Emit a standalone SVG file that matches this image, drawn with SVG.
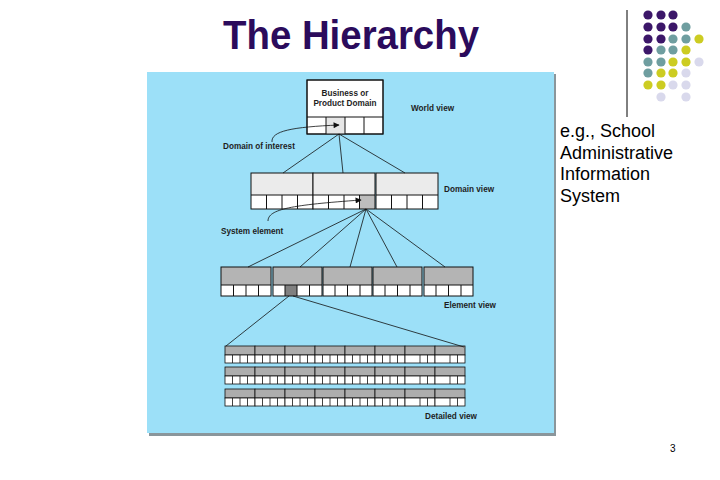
<svg xmlns="http://www.w3.org/2000/svg" xmlns:xlink="http://www.w3.org/1999/xlink" width="720" height="480" viewBox="0 0 720 480">
<style>
.lbl{font-family:"Liberation Sans",Arial,sans-serif;font-size:8.2px;font-weight:bold;fill:#1e1e1e}
.box{stroke:#111;stroke-width:1;fill:none}
.con{stroke:#111;stroke-width:0.8;fill:none}
.side{font-family:"Liberation Sans",Arial,sans-serif;font-size:18px;fill:#000}
</style>
<defs>
<marker id="ah" viewBox="0 0 10 10" refX="9" refY="5" markerWidth="7" markerHeight="6" orient="auto" markerUnits="userSpaceOnUse">
<path d="M0,0 L10,5 L0,10 z" fill="#111"/>
</marker>
<g id="dbox">
<rect x="0" y="0" width="30" height="9" fill="#ADADAD" stroke="#111" stroke-width="0.8"/>
<rect x="0" y="9" width="30" height="8" fill="#fff" stroke="#111" stroke-width="0.8"/>
<path d="M7.5,9V17M15,9V17M22.5,9V17" stroke="#111" stroke-width="0.8"/>
</g>
<g id="dbox2">
<rect x="0" y="0" width="30" height="9" fill="#ADADAD" stroke="#111" stroke-width="0.8"/>
<rect x="0" y="9" width="30" height="8" fill="#fff" stroke="#111" stroke-width="0.8"/>
<path d="M15,9V17M22.5,9V17" stroke="#111" stroke-width="0.8"/>
</g>
</defs>
<rect width="720" height="480" fill="#fff"/>
<text x="223" y="49" font-family="'Liberation Sans',Arial,sans-serif" font-size="41" font-weight="bold" fill="#2B0B5C" textLength="256" lengthAdjust="spacingAndGlyphs">The Hierarchy</text>
<line x1="627" y1="10" x2="627" y2="117" stroke="#000" stroke-width="1"/>
<g id="dots">
<g fill="#3C1769">
<circle cx="648" cy="15" r="4.6"/><circle cx="661" cy="15" r="4.6"/><circle cx="673" cy="15" r="4.6"/>
<circle cx="648" cy="27" r="4.6"/><circle cx="661" cy="27" r="4.6"/><circle cx="673" cy="27" r="4.6"/>
<circle cx="648" cy="39" r="4.6"/><circle cx="661" cy="39" r="4.6"/>
<circle cx="648" cy="50" r="4.6"/>
</g>
<g fill="#6F9EA0">
<circle cx="686" cy="27" r="4.6"/>
<circle cx="673" cy="39" r="4.6"/><circle cx="686" cy="39" r="4.6"/>
<circle cx="661" cy="50" r="4.6"/><circle cx="673" cy="50" r="4.6"/>
<circle cx="648" cy="62" r="4.6"/><circle cx="661" cy="62" r="4.6"/>
<circle cx="648" cy="73" r="4.6"/>
</g>
<g fill="#CCCC22">
<circle cx="699" cy="39" r="4.6"/>
<circle cx="686" cy="50" r="4.6"/>
<circle cx="673" cy="62" r="4.6"/><circle cx="686" cy="62" r="4.6"/>
<circle cx="661" cy="73" r="4.6"/><circle cx="673" cy="73" r="4.6"/>
<circle cx="648" cy="85" r="4.6"/><circle cx="661" cy="85" r="4.6"/>
</g>
<g fill="#D9D9EC">
<circle cx="699" cy="62" r="4.6"/>
<circle cx="686" cy="73" r="4.6"/>
<circle cx="673" cy="85" r="4.6"/><circle cx="686" cy="85" r="4.6"/>
<circle cx="661" cy="97" r="4.6"/><circle cx="686" cy="97" r="4.6"/>
</g>
</g>
<g id="side-text">
<text class="side" x="560" y="137">e.g., School</text>
<text class="side" x="560" y="159">Administrative</text>
<text class="side" x="560" y="180">Information</text>
<text class="side" x="560" y="202">System</text>
</g>
<text x="670" y="452" font-family="'Liberation Sans',Arial,sans-serif" font-size="10" fill="#000">3</text>
<g id="panel">
<rect x="149" y="74" width="407" height="362" fill="#8A969B"/>
<rect x="147" y="72" width="407" height="361" fill="#9CE0F8"/>
</g>
<g id="world-box">
<rect x="307" y="80" width="76" height="54" fill="#fff" stroke="#111"/>
<rect x="326" y="117" width="19" height="17" fill="#E6E6E6"/>
<path class="box" d="M307,117H383M326,117V134M345,117V134M364,117V134"/>
<rect class="box" x="307" y="80" width="76" height="54"/>
<text class="lbl" x="345" y="96" text-anchor="middle">Business or</text>
<text class="lbl" x="345" y="106" text-anchor="middle">Product Domain</text>
</g>
<text id="world-view" class="lbl" x="411" y="111">World view</text>
<text id="domain-of-interest" class="lbl" x="223" y="149">Domain of interest</text>
<g id="domain-1">
<rect x="251" y="173" width="62" height="22" fill="#EBEBEB"/>
<rect x="251" y="195" width="62" height="14" fill="#fff"/>
<path class="box" d="M251,195H313M266.5,195V209M282,195V209M297.5,195V209"/>
<rect class="box" x="251" y="173" width="62" height="36"/>
</g>
<g id="domain-2">
<rect x="313" y="173" width="62" height="22" fill="#EBEBEB"/>
<rect x="313" y="195" width="62" height="14" fill="#fff"/>
<rect x="359.5" y="195" width="15.5" height="14" fill="#BDBDBD"/>
<path class="box" d="M313,195H375M328.5,195V209M344,195V209M359.5,195V209"/>
<rect class="box" x="313" y="173" width="62" height="36"/>
</g>
<g id="domain-3">
<rect x="376" y="173" width="62" height="22" fill="#EBEBEB"/>
<rect x="376" y="195" width="62" height="14" fill="#fff"/>
<path class="box" d="M376,195H438M391.5,195V209M407,195V209M422.5,195V209"/>
<rect class="box" x="376" y="173" width="62" height="36"/>
</g>
<text id="domain-view" class="lbl" x="444" y="192">Domain view</text>
<text id="system-element" class="lbl" x="221" y="234">System element</text>
<g id="element-1">
<rect x="221" y="267" width="50" height="18" fill="#B4B4B4"/>
<rect x="221" y="285" width="50" height="11" fill="#fff"/>
<path class="box" d="M221,285H271M233.5,285V296M246,285V296M258.5,285V296"/>
<rect class="box" x="221" y="267" width="50" height="29"/>
</g>
<g id="element-2">
<rect x="273" y="267" width="49" height="18" fill="#B4B4B4"/>
<rect x="273" y="285" width="49" height="11" fill="#fff"/>
<rect x="285" y="285" width="12" height="11" fill="#808080"/>
<path class="box" d="M273,285H322M285,285V296M297,285V296M309.5,285V296"/>
<rect class="box" x="273" y="267" width="49" height="29"/>
</g>
<g id="element-3">
<rect x="323" y="267" width="49" height="18" fill="#B4B4B4"/>
<rect x="323" y="285" width="49" height="11" fill="#fff"/>
<path class="box" d="M323,285H372M335,285V296M347.5,285V296M360,285V296"/>
<rect class="box" x="323" y="267" width="49" height="29"/>
</g>
<g id="element-4">
<rect x="373" y="267" width="49" height="18" fill="#B4B4B4"/>
<rect x="373" y="285" width="49" height="11" fill="#fff"/>
<path class="box" d="M373,285H422M385,285V296M397.5,285V296M410,285V296"/>
<rect class="box" x="373" y="267" width="49" height="29"/>
</g>
<g id="element-5">
<rect x="424" y="267" width="49" height="18" fill="#B4B4B4"/>
<rect x="424" y="285" width="49" height="11" fill="#fff"/>
<path class="box" d="M424,285H473M436,285V296M448.5,285V296M461,285V296"/>
<rect class="box" x="424" y="267" width="49" height="29"/>
</g>
<text id="element-view" class="lbl" x="444" y="308">Element view</text>
<g id="detail-row-1">
<use xlink:href="#dbox" x="225" y="346"/><use xlink:href="#dbox" x="255" y="346"/><use xlink:href="#dbox" x="285" y="346"/><use xlink:href="#dbox" x="315" y="346"/>
<use xlink:href="#dbox" x="345" y="346"/><use xlink:href="#dbox" x="375" y="346"/><use xlink:href="#dbox2" x="405" y="346"/><use xlink:href="#dbox2" x="435" y="346"/>
</g>
<g id="detail-row-2">
<use xlink:href="#dbox" x="225" y="367"/><use xlink:href="#dbox" x="255" y="367"/><use xlink:href="#dbox" x="285" y="367"/><use xlink:href="#dbox" x="315" y="367"/>
<use xlink:href="#dbox" x="345" y="367"/><use xlink:href="#dbox" x="375" y="367"/><use xlink:href="#dbox2" x="405" y="367"/><use xlink:href="#dbox2" x="435" y="367"/>
</g>
<g id="detail-row-3">
<use xlink:href="#dbox" x="225" y="389"/><use xlink:href="#dbox" x="255" y="389"/><use xlink:href="#dbox" x="285" y="389"/><use xlink:href="#dbox" x="315" y="389"/>
<use xlink:href="#dbox" x="345" y="389"/><use xlink:href="#dbox" x="375" y="389"/><use xlink:href="#dbox2" x="405" y="389"/><use xlink:href="#dbox2" x="435" y="389"/>
</g>
<text id="detailed-view" class="lbl" x="425" y="419">Detailed view</text>
<g id="connectors">
<path class="con" d="M339,134 L283,173 M339,134 L343,173 M339,134 L405,173"/>
<path class="con" d="M366,209 L248,267 M366,209 L300,267 M366,209 L350,267 M366,209 L397,267 M366,209 L445,267"/>
<path class="con" d="M289,296 L226,346 M293,296 L464,347"/>
<path class="con" d="M272,142 C271,131 292,127 339,125" marker-end="url(#ah)"/>
<path class="con" d="M268,221 C268,209 292,205 361,200" marker-end="url(#ah)"/>
</g>
</svg>
